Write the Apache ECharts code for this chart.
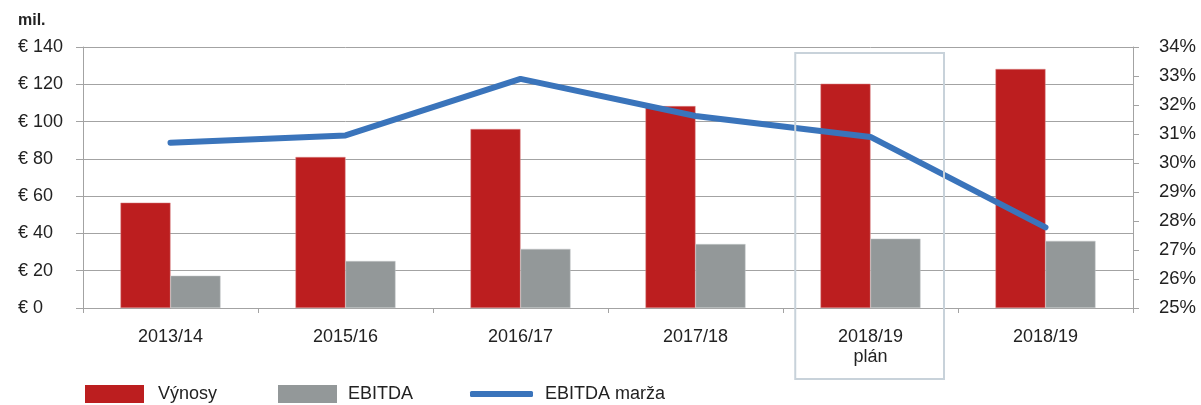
<!DOCTYPE html>
<html>
<head>
<meta charset="utf-8">
<script src="https://cdn.jsdelivr.net/npm/echarts@6/dist/echarts.min.js"></script>
<style>
html,body{margin:0;padding:0;background:#fff;}
#chart{width:1201px;height:405px;}
</style>
</head>
<body>
<div id="chart"></div>
<script>
const categories = ['2013/14', '2015/16', '2016/17', '2017/18', '2018/19\nplán', '2018/19'];
const vynosy = [56.5, 81, 96, 108.3, 120.3, 128.2];
const ebitda = [17.3, 25.2, 31.7, 34.3, 37.2, 36];
const marza = [30.7, 30.95, 32.9, 31.62, 30.9, 27.78];
const leftTicks = { min: 0, max: 140, interval: 20 };
const rightTicks = { min: 25, max: 34, interval: 1 };
const highlightCategory = '2018/19\nplán';

const FONT = '"Liberation Sans", Arial, sans-serif';
const TXT = '#222';
const GRID = '#a3a3a3';
const RED = '#bc1e1f';
const GRAY = '#939899';
const BLUE = '#3a74bb';

const chart = echarts.init(document.getElementById('chart'), null, { renderer: 'canvas' });
const legendText = (padLeft) => ({ fontFamily: FONT, fontSize: 18, color: TXT, padding: [0, 0, 0, padLeft] });
const option = {
  animation: false,
  textStyle: { fontFamily: FONT, color: TXT },
  title: {
    text: 'mil.', left: 18, top: 13, padding: 0,
    textStyle: { fontFamily: FONT, fontSize: 16, fontWeight: 'bold', color: TXT }
  },
  grid: { left: 83, right: 68, top: 47, bottom: 97 },
  legend: [
    { left: 85, top: 385, padding: 0, itemWidth: 59, itemHeight: 18, itemGap: 14,
      data: [{ name: 'Výnosy', icon: 'rect' }],
      itemStyle: { borderWidth: 0 }, textStyle: legendText(9) },
    { left: 278, top: 385, padding: 0, itemWidth: 59, itemHeight: 18, itemGap: 14,
      data: [{ name: 'EBITDA', icon: 'rect' }],
      itemStyle: { borderWidth: 0 }, textStyle: legendText(6) },
    { left: 470, top: 385, padding: 0, itemWidth: 63, itemHeight: 6, itemGap: 12,
      data: [{ name: 'EBITDA marža', icon: 'roundRect' }],
      itemStyle: { borderWidth: 0 }, lineStyle: { width: 0 }, textStyle: legendText(7) }
  ],
  xAxis: {
    type: 'category',
    data: categories,
    boundaryGap: true,
    axisLine: { lineStyle: { color: GRID, width: 1 } },
    axisTick: { show: true, length: 5, lineStyle: { color: GRID } },
    axisLabel: { fontFamily: FONT, fontSize: 18, color: TXT, margin: 19, lineHeight: 20 }
  },
  yAxis: [
    {
      type: 'value', min: leftTicks.min, max: leftTicks.max, interval: leftTicks.interval,
      axisLine: { show: true, lineStyle: { color: GRID } },
      axisTick: { show: true, length: 7, lineStyle: { color: GRID } },
      splitLine: { show: true, lineStyle: { color: GRID, width: 1 } },
      axisLabel: { fontFamily: FONT, fontSize: 18, color: TXT, margin: 65, align: 'left', formatter: '€ {value}' }
    },
    {
      type: 'value', min: rightTicks.min, max: rightTicks.max, interval: rightTicks.interval,
      position: 'right',
      axisLine: { show: true, lineStyle: { color: GRID } },
      axisTick: { show: true, length: 6, lineStyle: { color: GRID } },
      splitLine: { show: false },
      axisLabel: { fontFamily: FONT, fontSize: 18.5, color: TXT, margin: 26, formatter: '{value}%' }
    }
  ],
  series: [
    { name: 'Výnosy', type: 'bar', data: vynosy, barWidth: 50, barGap: '0%',
      itemStyle: { color: RED, borderColor: '#d9898a', borderWidth: 0.5 } },
    { name: 'EBITDA', type: 'bar', data: ebitda, barWidth: 50, barGap: '0%',
      itemStyle: { color: GRAY, borderColor: '#c5c9ca', borderWidth: 0.5 } },
    { name: 'EBITDA marža', type: 'line', yAxisIndex: 1, data: marza,
      symbol: 'none', color: BLUE,
      lineStyle: { color: BLUE, width: 6, cap: 'round', join: 'round' },
      itemStyle: { color: BLUE }, z: 5 }
  ]
};
chart.setOption(option);

// highlight box around the planned category, positioned via the chart's scales
const cx = chart.convertToPixel({ xAxisIndex: 0 }, highlightCategory);
const yTop = chart.convertToPixel({ yAxisIndex: 0 }, leftTicks.max);
const yBottom = chart.convertToPixel({ yAxisIndex: 0 }, leftTicks.min);
const x0 = chart.convertToPixel({ xAxisIndex: 0 }, categories[0]);
const x1 = chart.convertToPixel({ xAxisIndex: 0 }, categories[1]);
const bandW = x1 - x0;
chart.setOption({
  graphic: [{
    type: 'rect', z: 10,
    shape: { x: cx - bandW * 0.43, y: yTop + 6, width: bandW * 0.85, height: (yBottom + 71) - (yTop + 6) },
    style: { fill: null, stroke: '#c8d2da', lineWidth: 2 }
  }]
});
</script>
</body>
</html>
